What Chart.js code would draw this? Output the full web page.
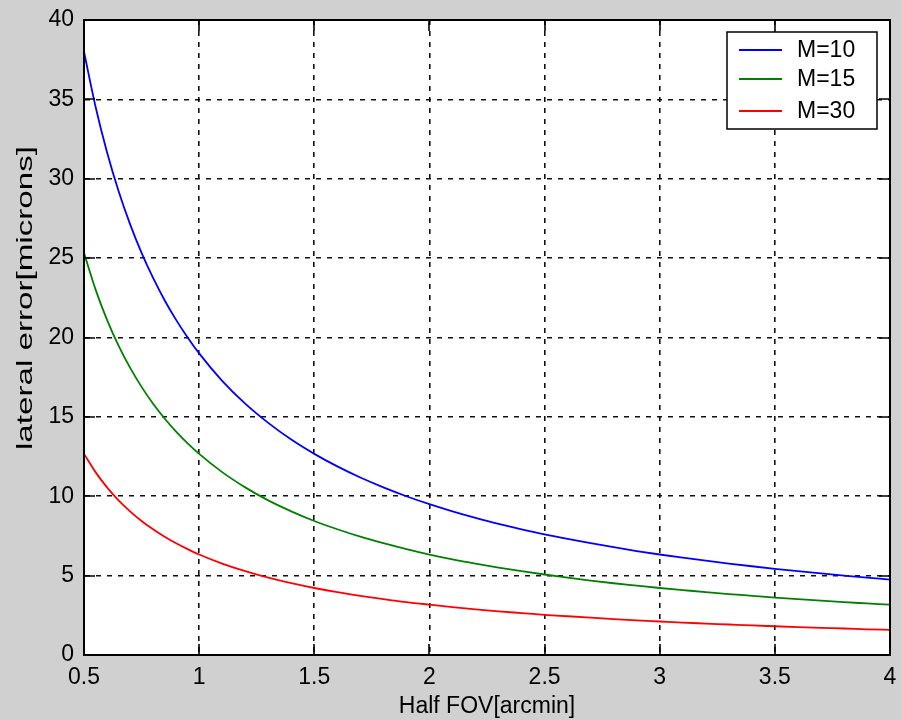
<!DOCTYPE html>
<html>
<head>
<meta charset="utf-8">
<script src="https://cdn.jsdelivr.net/npm/chart.js@4.4.1/dist/chart.umd.min.js"></script>
<style>
  html, body { margin: 0; padding: 0; background: #d0d0d0; }
  #wrap { width: 901px; height: 720px; position: relative; }
</style>
</head>
<body>
<div id="wrap"><canvas id="c"></canvas></div>
<script>
// ---- data ----
const halfFov = [0.5,0.55,0.6,0.65,0.7,0.75,0.8,0.85,0.9,0.95,1.0,1.1,1.2,1.3,1.4,1.5,1.6,1.7,1.8,1.9,2.0,2.1,2.2,2.3,2.4,2.5,2.6,2.7,2.8,2.9,3.0,3.1,3.2,3.3,3.4,3.5,3.6,3.7,3.8,3.9,4.0];
const errM10 = [38.0,34.55,31.67,29.23,27.14,25.33,23.75,22.35,21.11,20.0,19.0,17.27,15.83,14.62,13.57,12.67,11.88,11.18,10.56,10.0,9.5,9.05,8.64,8.26,7.92,7.6,7.31,7.04,6.79,6.55,6.33,6.13,5.94,5.76,5.59,5.43,5.28,5.14,5.0,4.87,4.75];
const errM15 = [25.33,23.03,21.11,19.49,18.1,16.89,15.83,14.9,14.07,13.33,12.67,11.52,10.56,9.74,9.05,8.44,7.92,7.45,7.04,6.67,6.33,6.03,5.76,5.51,5.28,5.07,4.87,4.69,4.52,4.37,4.22,4.09,3.96,3.84,3.73,3.62,3.52,3.42,3.33,3.25,3.17];
const errM30 = [12.67,11.52,10.56,9.74,9.05,8.44,7.92,7.45,7.04,6.67,6.33,5.76,5.28,4.87,4.52,4.22,3.96,3.73,3.52,3.33,3.17,3.02,2.88,2.75,2.64,2.53,2.44,2.35,2.26,2.18,2.11,2.04,1.98,1.92,1.86,1.81,1.76,1.71,1.67,1.62,1.58];
const seriesLabels = ['M=10', 'M=15', 'M=30'];
const xTitle = 'Half FOV[arcmin]';
const yTitle = 'lateral error[microns]';

const FONT = "'Liberation Sans', Arial, sans-serif";
const colors = ['#0000ff', '#008000', '#ff0000'];
const seriesVals = [errM10, errM15, errM30];

const datasets = seriesVals.map((vals, i) => ({
  label: seriesLabels[i],
  data: halfFov.map((x, j) => ({x: x, y: vals[j]})),
  borderColor: colors[i],
  backgroundColor: colors[i],
  borderWidth: 1.8,
  pointRadius: 0,
  fill: false,
  cubicInterpolationMode: 'monotone'
}));

const fmt = v => String(Math.round(v * 100) / 100);

const matlabPlugin = {
  id: 'matlab',
  beforeDraw(chart) {
    const {ctx, chartArea: a} = chart;
    ctx.save();
    ctx.fillStyle = '#ffffff';
    ctx.fillRect(a.left, a.top, a.right - a.left, a.bottom - a.top);
    ctx.restore();
  },
  afterDraw(chart) {
    const {ctx, chartArea: a, scales} = chart;
    ctx.save();
    // inner tick marks on all four sides
    ctx.strokeStyle = '#000';
    ctx.lineWidth = 1.6;
    const tl = 11;
    scales.x.ticks.forEach(t => {
      const px = Math.round(scales.x.getPixelForValue(t.value));
      ctx.beginPath();
      ctx.moveTo(px, a.bottom); ctx.lineTo(px, a.bottom - tl);
      ctx.moveTo(px, a.top); ctx.lineTo(px, a.top + tl);
      ctx.stroke();
    });
    scales.y.ticks.forEach(t => {
      const py = Math.round(scales.y.getPixelForValue(t.value));
      ctx.beginPath();
      ctx.moveTo(a.left, py); ctx.lineTo(a.left + tl, py);
      ctx.moveTo(a.right, py); ctx.lineTo(a.right - tl, py);
      ctx.stroke();
    });
    // box
    ctx.lineWidth = 2;
    ctx.strokeRect(a.left, a.top, a.right - a.left, a.bottom - a.top);

    // y axis title (stretched along its length like the reference)
    ctx.save();
    ctx.font = '22px ' + FONT;
    ctx.fillStyle = '#000';
    ctx.textAlign = 'center';
    ctx.textBaseline = 'middle';
    const w = ctx.measureText(yTitle).width;
    ctx.translate(26, 298);
    ctx.rotate(-Math.PI / 2);
    ctx.scale(304 / w, 1);
    ctx.fillText(yTitle, 0, 0);
    ctx.restore();

    // legend box
    const lx = 727, ly = 32, lw = 150, lh = 97;
    ctx.fillStyle = '#fff';
    ctx.fillRect(lx, ly, lw, lh);
    ctx.lineWidth = 1.5;
    ctx.strokeStyle = '#000';
    ctx.strokeRect(lx, ly, lw, lh);
    const rows = [50, 79, 111];
    chart.data.datasets.forEach((ds, i) => {
      ctx.strokeStyle = ds.borderColor;
      ctx.lineWidth = 1.8;
      ctx.beginPath();
      ctx.moveTo(739, rows[i]); ctx.lineTo(782, rows[i]);
      ctx.stroke();
      ctx.fillStyle = '#000';
      ctx.font = '23px ' + FONT;
      ctx.textAlign = 'left';
      ctx.textBaseline = 'middle';
      ctx.fillText(ds.label, 797, rows[i] + 1);
    });
    ctx.restore();
  }
};

new Chart(document.getElementById('c'), {
  type: 'line',
  data: { datasets: datasets },
  options: {
    responsive: true,
    maintainAspectRatio: false,
    animation: false,
    layout: { padding: { top: 20, right: 11, bottom: 0, left: 0 } },
    plugins: { legend: { display: false }, tooltip: { enabled: false } },
    scales: {
      x: {
        type: 'linear',
        min: 0.5, max: 4,
        ticks: { stepSize: 0.5, color: '#000', padding: 9, maxRotation: 0, font: { family: FONT, size: 23 }, callback: fmt },
        grid: { color: '#111', lineWidth: 1.6, drawTicks: false },
        border: { display: true, color: '#000', width: 2, dash: [5, 6] },
        title: { display: true, text: xTitle, color: '#000', font: { family: FONT, size: 23 }, padding: { top: 0, bottom: 0 } },
        afterFit(scale) { scale.height = 65; scale.paddingLeft = 0; scale.paddingRight = 0; }
      },
      y: {
        type: 'linear',
        min: 0, max: 40,
        ticks: { stepSize: 5, color: '#000', padding: 10, font: { family: FONT, size: 23 }, callback: fmt },
        grid: { color: '#111', lineWidth: 1.6, drawTicks: false },
        border: { display: true, color: '#000', width: 2, dash: [5, 6] },
        afterFit(scale) { scale.width = 84; scale.paddingTop = 0; scale.paddingBottom = 0; }
      }
    }
  },
  plugins: [matlabPlugin]
});
</script>
</body>
</html>
